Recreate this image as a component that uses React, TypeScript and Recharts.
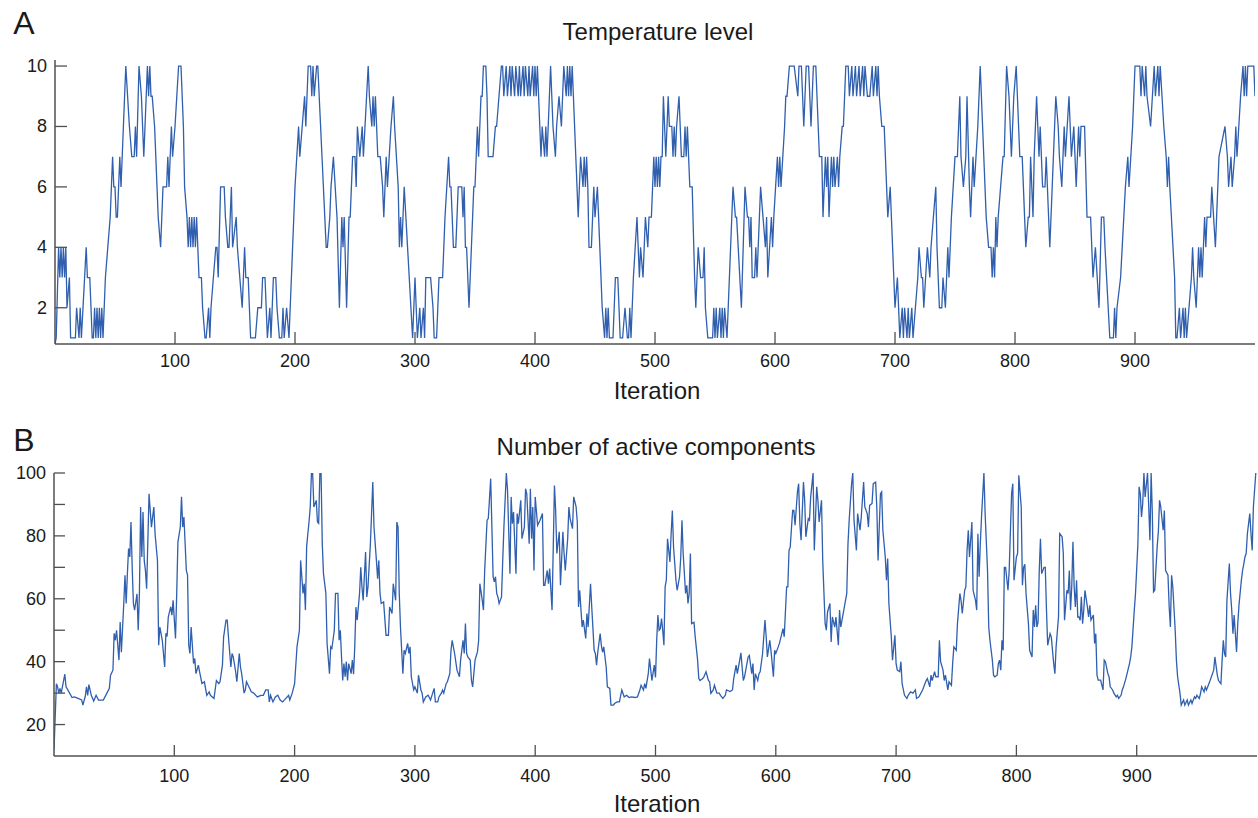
import { LineChart, Line, XAxis, YAxis } from "recharts"

const FONT = '"Liberation Sans", Arial, Helvetica, sans-serif'
const AXIS = "#505050"
const BLUE = "#2f5fae"

// x axis ticks shared by both panels
const iterationTicks = [100, 200, 300, 400, 500, 600, 700, 800, 900]
const temperatureTicks = [2, 4, 6, 8, 10]
const componentTicks = [20, 30, 40, 50, 60, 70, 80, 90, 100]
const componentLabels = [20, 40, 60, 80, 100]

// [iteration, temperature level] turning points
const temperatureSteps: [number, number][] = [
  [0, 0.8], [1, 1], [3, 4], [4, 3], [5, 4], [6, 3], [7, 4], [8, 3], [9, 4], [10, 2], [12, 3], [13, 1], [17, 1], [18, 2], [20, 1], [21, 2], [22, 1],
  [26, 4], [27, 3], [29, 3], [31, 1], [32, 1], [33, 2], [34, 1], [35, 2], [36, 1], [37, 2], [38, 1], [39, 2], [40, 1], [42, 3], [44, 4], [46, 5],
  [48, 7], [49, 6], [50, 6], [51, 5], [52, 5], [54, 7], [55, 6], [56, 7], [57, 8], [59, 10], [62, 8], [64, 7], [66, 7], [67, 8], [68, 7], [70, 10],
  [72, 9], [74, 7], [76, 9], [77, 10], [78, 9], [79, 10], [80, 9], [81, 9], [83, 8], [86, 5], [88, 4], [90, 6], [93, 6], [94, 7], [95, 6], [97, 8],
  [98, 7], [100, 8], [103, 10], [105, 10], [107, 8], [108, 6], [110, 5], [111, 4], [112, 5], [113, 4], [114, 5], [115, 4], [116, 5], [117, 4], [118, 5],
  [120, 3], [122, 3], [123, 2], [125, 1], [126, 1], [128, 2], [129, 1], [130, 2], [132, 3], [134, 4], [135, 4], [136, 3], [138, 6], [141, 6], [142, 5],
  [144, 4], [145, 4], [147, 6], [148, 4], [151, 5], [152, 4], [154, 3], [156, 2], [158, 4], [159, 3], [161, 3], [163, 1], [167, 1], [169, 2], [172, 2],
  [173, 3], [175, 3], [177, 1], [179, 2], [180, 1], [182, 3], [184, 3], [185, 2], [187, 1], [189, 1], [190, 2], [191, 1], [193, 2], [195, 1], [198, 4],
  [200, 6], [203, 8], [204, 7], [206, 8], [208, 9], [209, 8], [211, 10], [213, 10], [214, 9], [215, 10], [216, 9], [218, 10], [219, 10], [226, 4], [227, 4],
  [229, 5], [230, 6], [232, 7], [235, 5], [237, 2], [239, 5], [240, 4], [241, 5], [243, 2], [245, 5], [246, 5], [248, 7], [250, 7], [251, 6], [252, 8],
  [254, 7], [256, 8], [257, 7], [261, 10], [262, 9], [264, 8], [265, 9], [266, 8], [267, 9], [269, 7], [271, 7], [273, 6], [274, 5], [276, 7], [277, 6],
  [280, 8], [282, 9], [283, 8], [286, 6], [287, 4], [288, 5], [289, 4], [291, 6], [298, 1], [300, 3], [302, 1], [304, 2], [305, 1], [307, 2], [308, 1],
  [309, 3], [313, 3], [315, 2], [316, 1], [318, 1], [320, 3], [323, 3], [324, 4], [325, 5], [328, 7], [329, 6], [330, 6], [332, 4], [334, 4], [336, 6],
  [339, 6], [340, 5], [341, 6], [342, 4], [343, 4], [345, 2], [347, 4], [349, 6], [350, 6], [352, 8], [353, 7], [355, 9], [356, 9], [357, 10], [359, 10],
  [360, 9], [361, 7], [365, 7], [367, 8], [368, 8], [370, 9], [372, 10], [373, 10], [374, 9], [376, 10], [377, 9], [379, 10], [380, 9], [381, 10], [383, 9],
  [384, 10], [386, 9], [387, 10], [388, 9], [390, 10], [391, 9], [392, 10], [394, 9], [395, 10], [396, 9], [398, 10], [399, 9], [400, 10], [401, 9], [402, 10],
  [404, 8], [405, 7], [406, 8], [408, 7], [409, 8], [410, 7], [413, 10], [415, 8], [417, 7], [418, 8], [420, 9], [422, 8], [424, 10], [426, 9], [427, 10],
  [428, 9], [429, 10], [430, 9], [431, 10], [432, 9], [436, 5], [438, 7], [440, 6], [441, 7], [442, 6], [443, 7], [444, 6], [445, 4], [447, 4], [449, 6],
  [450, 5], [452, 6], [454, 4], [456, 2], [458, 1], [459, 2], [460, 1], [461, 2], [462, 1], [465, 1], [467, 3], [469, 3], [471, 1], [473, 1], [475, 2],
  [477, 1], [478, 1], [479, 2], [480, 1], [482, 3], [485, 5], [487, 3], [488, 4], [490, 3], [492, 5], [494, 4], [495, 5], [497, 5], [499, 7], [500, 6],
  [501, 7], [502, 6], [503, 7], [504, 6], [505, 7], [506, 7], [507, 9], [509, 7], [511, 9], [512, 8], [514, 8], [515, 7], [516, 8], [517, 7], [518, 8],
  [520, 9], [522, 7], [524, 7], [525, 8], [526, 7], [527, 8], [529, 6], [531, 6], [533, 3], [534, 2], [536, 4], [538, 3], [540, 3], [541, 4], [542, 2],
  [544, 1], [548, 1], [549, 2], [550, 1], [551, 2], [552, 1], [554, 2], [555, 1], [556, 2], [557, 1], [558, 2], [560, 1], [565, 6], [567, 5], [568, 5],
  [572, 2], [575, 6], [577, 5], [578, 5], [579, 4], [580, 5], [581, 3], [583, 3], [584, 4], [585, 3], [588, 6], [590, 5], [592, 4], [593, 5], [594, 3],
  [597, 5], [598, 4], [599, 5], [602, 7], [603, 6], [604, 7], [605, 6], [608, 8], [609, 9], [610, 9], [612, 10], [616, 10], [619, 9], [620, 10], [622, 10],
  [624, 8], [626, 10], [628, 10], [630, 8], [632, 10], [634, 10], [637, 7], [639, 7], [640, 5], [642, 7], [643, 6], [644, 7], [645, 5], [647, 7], [648, 6],
  [649, 7], [650, 6], [652, 7], [653, 6], [654, 7], [656, 8], [657, 8], [658, 9], [659, 10], [661, 10], [662, 9], [664, 10], [665, 9], [667, 10], [668, 9],
  [670, 10], [671, 9], [673, 10], [674, 9], [675, 10], [677, 9], [679, 9], [681, 10], [682, 9], [684, 10], [685, 9], [686, 10], [687, 9], [689, 8], [691, 8],
  [694, 5], [696, 6], [697, 5], [700, 2], [702, 3], [704, 1], [706, 2], [707, 1], [708, 2], [710, 1], [711, 2], [712, 1], [714, 2], [715, 1], [717, 2],
  [719, 3], [720, 4], [722, 3], [723, 3], [724, 2], [727, 4], [729, 3], [730, 4], [734, 6], [735, 4], [737, 2], [739, 2], [740, 3], [742, 2], [744, 4],
  [745, 3], [747, 5], [750, 7], [752, 7], [754, 9], [755, 7], [757, 6], [759, 7], [760, 9], [762, 6], [763, 5], [765, 7], [766, 6], [769, 8], [771, 10],
  [773, 8], [776, 5], [778, 4], [780, 4], [781, 3], [782, 4], [783, 3], [784, 5], [785, 4], [786, 5], [790, 7], [791, 7], [793, 10], [795, 9], [797, 7],
  [799, 9], [801, 10], [802, 9], [804, 7], [806, 7], [808, 5], [809, 4], [811, 5], [812, 5], [813, 7], [815, 5], [816, 7], [818, 9], [819, 8], [820, 7],
  [821, 8], [823, 6], [825, 6], [826, 7], [829, 4], [834, 9], [836, 8], [837, 7], [839, 6], [841, 8], [842, 7], [845, 9], [847, 7], [849, 8], [851, 6],
  [853, 8], [854, 7], [855, 8], [858, 8], [860, 5], [863, 5], [865, 3], [867, 4], [870, 2], [872, 5], [874, 5], [875, 4], [879, 1], [882, 1], [883, 2],
  [884, 1], [885, 2], [888, 3], [892, 6], [894, 7], [895, 6], [898, 8], [900, 10], [904, 10], [905, 9], [906, 10], [908, 9], [909, 10], [910, 9], [913, 8],
  [916, 10], [917, 9], [919, 10], [920, 9], [921, 10], [924, 8], [926, 7], [927, 6], [928, 7], [929, 6], [933, 3], [934, 1], [935, 1], [937, 2], [938, 1],
  [940, 2], [941, 1], [942, 2], [943, 1], [947, 3], [948, 4], [949, 3], [951, 2], [953, 4], [954, 3], [955, 4], [956, 3], [957, 4], [958, 5], [959, 4],
  [960, 5], [963, 5], [964, 6], [967, 4], [969, 6], [970, 7], [975, 8], [977, 7], [978, 6], [980, 7], [981, 6], [983, 7], [984, 8], [985, 7], [988, 9],
  [990, 10], [991, 9], [992, 10], [993, 9], [994, 10], [999, 10], [1000, 9],
]

// [iteration, number of active components] turning points
const componentSteps: [number, number][] = [
  [0, 12], [2, 33], [3, 32], [4, 30], [5, 31.5], [6, 30], [9, 36], [10, 32], [13, 30], [15, 28.6], [17, 28.8], [20, 28.3], [23, 27.8], [24, 26.2], [26, 29],
  [27, 32], [28, 29.3], [29, 32.7], [31, 29.3], [33, 27.5], [35, 29.3], [37, 27.8], [41, 27.8], [44, 30], [46, 31.5], [47, 35.7], [49, 37.3], [50, 49],
  [51, 46.8], [52, 50], [54, 40.5], [55, 52.6], [56, 43], [58, 58.5], [59, 67.5], [60, 58.5], [61, 68], [62, 76], [63, 73.3], [64, 84.4], [65, 70],
  [66, 58.5], [67, 56.4], [69, 61.6], [70, 50], [71, 61.6], [72, 89.2], [73, 73.3], [74, 87.6], [75, 72.2], [76, 69], [77, 63.2], [79, 93.4], [81, 82.8],
  [83, 89.2], [84, 80.7], [86, 72.2], [87, 45.2], [88, 51], [90, 46.8], [92, 38.3], [93, 49], [94, 48], [95, 54.2], [97, 57.4], [98, 54.8], [99, 59.5],
  [101, 47.4], [102, 61.6], [103, 78], [105, 82.8], [106, 92.4], [107, 82.8], [108, 86], [110, 69], [111, 67.5], [112, 45.2], [113, 42.6], [114, 51],
  [116, 39.4], [117, 41], [118, 36.2], [120, 38.9], [121, 36.8], [123, 33], [125, 33.6], [127, 29.3], [129, 30.4], [130, 29.3], [133, 28.3], [135, 34],
  [137, 33], [138, 33.6], [140, 38.9], [141, 47.9], [143, 53.2], [144, 53.2], [145, 47.9], [147, 38.3], [148, 42.6], [149, 41.5], [151, 36.8], [152, 33.6],
  [154, 42.6], [155, 38.3], [156, 36.2], [158, 30], [159, 31], [160, 33.6], [162, 32], [164, 30.4], [166, 30], [169, 28.8], [172, 29.3], [174, 29.3],
  [176, 31], [178, 31], [179, 27.2], [180, 29.3], [182, 27.2], [184, 28.8], [186, 29.3], [188, 27.8], [190, 27.2], [192, 28], [195, 29.3], [196, 27.8],
  [198, 30], [200, 33], [202, 44.7], [204, 50], [205, 72.2], [207, 61.7], [208, 64.8], [209, 56.4], [210, 76.5], [211, 80.7], [212, 84.4], [213, 89.2],
  [214, 100], [215, 100], [216, 89.2], [218, 91.3], [219, 84.4], [220, 84], [221, 100], [222, 100], [223, 77.5], [224, 68], [226, 61.7], [227, 45.8],
  [229, 36.2], [230, 44.7], [231, 44.2], [233, 50], [234, 61.7], [236, 61.7], [237, 46.8], [238, 50], [239, 41.5], [240, 34], [241, 39.4], [242, 35.2],
  [243, 40], [244, 34], [245, 39.4], [247, 36.2], [248, 40.5], [249, 36], [250, 44.7], [251, 57.4], [252, 53.2], [254, 61.7], [255, 70], [256, 63.8],
  [257, 59.5], [259, 74.9], [260, 60.6], [261, 63.8], [263, 77.5], [265, 97.1], [266, 82.8], [268, 72.2], [269, 66.4], [270, 72.2], [271, 61.7], [272, 58.5],
  [274, 59], [276, 48.4], [278, 48.4], [279, 57.4], [281, 55.3], [282, 64.8], [284, 59.5], [285, 84.4], [286, 82.8], [287, 61.7], [288, 51], [290, 36.2],
  [291, 43.6], [292, 42.6], [294, 45.8], [295, 42.6], [296, 44.7], [297, 35.2], [299, 31], [300, 32], [302, 30], [303, 35.7], [305, 31], [306, 30],
  [307, 27.2], [309, 28.8], [311, 29.3], [313, 27.8], [316, 31.5], [317, 27.2], [319, 27.2], [320, 28.8], [322, 30], [323, 31], [324, 30], [326, 33],
  [327, 33.6], [329, 36.2], [330, 43.6], [331, 46.8], [333, 42.6], [335, 37.3], [337, 35.2], [338, 40.5], [340, 46.8], [341, 42.6], [342, 52.1], [343, 42.6],
  [344, 41.5], [346, 40.5], [347, 34], [348, 32], [350, 40.5], [352, 43.1], [353, 46.8], [354, 64.8], [356, 59.5], [357, 56.4], [358, 69], [360, 85],
  [361, 85.5], [363, 98.2], [364, 82.8], [365, 67], [366, 65.4], [367, 67], [368, 61.7], [369, 60.6], [370, 58.5], [372, 60.6], [373, 72.2], [374, 82.8],
  [376, 100], [377, 94.5], [379, 68], [380, 92.4], [381, 83.9], [382, 87.6], [384, 68], [385, 87.1], [386, 83.9], [388, 91.3], [389, 79.1], [391, 82.8],
  [392, 95], [393, 93.4], [395, 77.5], [396, 95], [397, 79.1], [398, 89.2], [399, 69], [400, 92.4], [402, 83.4], [404, 85], [406, 87.1], [407, 64.3],
  [408, 64.3], [410, 69], [411, 64.8], [412, 69.6], [414, 56.4], [416, 96], [417, 88.1], [418, 74.4], [420, 81.3], [421, 64.3], [423, 81.3], [424, 74.4],
  [425, 69], [427, 79.1], [428, 89.2], [429, 85.5], [431, 82.3], [432, 92.4], [434, 89.2], [435, 84.4], [436, 57.4], [437, 62.7], [439, 51], [440, 53.2],
  [442, 47.4], [443, 55.3], [444, 51], [446, 64.8], [447, 57.4], [449, 43.6], [450, 42.6], [451, 38.9], [452, 43], [454, 48.9], [455, 45.2], [456, 43],
  [457, 44.7], [459, 38.3], [460, 32], [462, 31.5], [463, 26.2], [465, 26.2], [466, 26.7], [468, 27.2], [470, 27.2], [472, 31], [474, 28.8], [476, 29.3],
  [478, 28.6], [480, 28.8], [483, 28.6], [485, 28.8], [487, 31], [488, 32.5], [490, 31], [491, 33], [492, 31.5], [494, 36.2], [495, 41], [497, 34],
  [498, 36.5], [499, 38.9], [500, 35], [501, 46.8], [502, 54.8], [503, 50], [504, 50.5], [505, 53.7], [506, 50], [507, 45.2], [508, 63.8], [509, 65.9],
  [510, 79.1], [511, 75.4], [512, 71.7], [513, 80.7], [514, 88.1], [515, 76.5], [517, 65.9], [518, 62.7], [520, 67], [521, 73.3], [522, 85], [523, 74.4],
  [525, 61.7], [526, 64.3], [527, 58.5], [528, 61.7], [529, 74.4], [530, 52.1], [532, 52.5], [533, 47.9], [535, 40.5], [536, 34.6], [537, 34], [539, 34.6],
  [540, 35], [542, 36.8], [544, 34], [545, 33.6], [546, 29.9], [548, 31], [549, 32.5], [551, 30], [553, 30], [554, 29.3], [555, 28.8], [556, 28.3],
  [558, 29.3], [559, 31], [562, 30.5], [564, 31], [565, 34.6], [567, 38.9], [568, 36.2], [570, 40.5], [571, 42.8], [572, 38.3], [573, 34], [574, 35.2],
  [576, 39.4], [577, 41.5], [578, 42], [580, 36.2], [581, 39.4], [582, 31], [583, 36.2], [585, 34], [586, 36.2], [587, 36.8], [589, 42.6], [591, 53.2],
  [592, 47.9], [593, 41.5], [595, 46.8], [596, 43.5], [598, 35.2], [599, 43.6], [600, 42.6], [602, 44.7], [603, 45.8], [605, 48.9], [606, 50.5], [607, 47.9],
  [609, 63.8], [610, 63.8], [611, 75.4], [612, 76.5], [614, 88.1], [615, 88.1], [616, 83.4], [618, 94], [619, 96.6], [620, 83.9], [621, 78.6], [623, 97.1],
  [624, 91.3], [625, 79.7], [627, 85.5], [628, 85], [629, 92.4], [631, 100], [632, 75.4], [634, 95.6], [635, 91.3], [636, 84.4], [638, 91.3], [639, 72.2],
  [641, 52.1], [642, 50], [643, 55.8], [645, 58.5], [646, 46.3], [647, 54.2], [649, 51], [650, 54.2], [652, 45.2], [653, 56.4], [654, 51], [656, 55.3],
  [657, 57.4], [659, 61.7], [660, 77.5], [661, 85], [663, 96.6], [664, 100], [665, 85], [667, 75.4], [668, 87.1], [670, 81.8], [671, 85.8], [673, 97.1],
  [674, 89.2], [676, 87.1], [677, 82.8], [678, 89.7], [680, 90.3], [681, 96.6], [683, 97.1], [684, 88.7], [685, 72.2], [687, 93.4], [688, 94], [689, 81.8],
  [691, 73.3], [692, 65.9], [693, 72.8], [694, 58.5], [696, 47.9], [697, 40.5], [699, 48.4], [700, 39.4], [701, 37.3], [703, 36.8], [704, 40], [705, 33],
  [707, 29.3], [709, 28.3], [710, 29.3], [712, 30.4], [714, 30], [716, 31], [717, 28.3], [719, 28.8], [722, 31], [725, 34], [726, 34.6], [728, 32],
  [729, 35.7], [730, 34], [732, 36.8], [733, 35.2], [735, 35.2], [736, 46.8], [737, 40], [739, 37.3], [740, 34], [741, 35.7], [743, 31], [744, 33.6],
  [746, 32.5], [747, 39.4], [748, 44.7], [750, 43.6], [751, 52.1], [753, 61.7], [754, 59.5], [755, 55.3], [757, 62.7], [758, 63.8], [759, 75.4], [760, 81.8],
  [761, 73.3], [763, 84.4], [764, 62.7], [766, 59.5], [767, 56.4], [768, 80.7], [769, 67], [770, 77.5], [771, 86], [773, 100], [774, 87.1], [776, 69],
  [777, 51], [778, 46.8], [780, 40.5], [781, 35.7], [782, 35.2], [784, 35.7], [785, 39.4], [786, 40.5], [787, 37.3], [788, 46.8], [789, 43.6], [790, 70],
  [791, 70], [793, 62.7], [794, 69], [796, 93.4], [797, 96.6], [798, 65.9], [800, 73.3], [801, 74.4], [802, 99.3], [804, 89.2], [805, 64.3], [806, 70],
  [807, 71], [808, 61.7], [810, 52.1], [811, 43.6], [813, 41.5], [814, 56.4], [815, 51], [816, 57.9], [817, 51], [818, 52.5], [819, 69], [820, 79.1],
  [821, 68], [823, 70], [824, 70], [825, 56.4], [826, 45.2], [828, 48.9], [829, 47.9], [831, 39.4], [832, 36.2], [833, 44.7], [835, 54.2], [836, 80.7],
  [838, 79.7], [839, 74.4], [840, 53.2], [842, 62.7], [843, 61.7], [844, 69], [845, 56.4], [846, 63.8], [847, 78.1], [848, 63.8], [849, 57.4], [850, 65.9],
  [851, 54.2], [852, 54.2], [853, 53.2], [854, 60.6], [855, 52.1], [856, 56.4], [857, 62.7], [859, 57.4], [860, 54.2], [861, 57.9], [862, 53.2], [864, 54.8],
  [865, 45.8], [866, 48.9], [867, 35.7], [868, 34.1], [870, 34.1], [872, 31], [873, 40.5], [874, 40], [876, 36.2], [877, 35.2], [878, 32], [880, 31],
  [881, 30], [883, 28.8], [884, 29.3], [885, 28.3], [887, 29.3], [888, 31], [889, 32], [891, 34.6], [892, 36.2], [894, 39.4], [895, 41.5], [896, 44.7],
  [898, 56.4], [899, 61.7], [901, 77.5], [902, 95.6], [903, 93.4], [904, 86], [905, 90.3], [906, 100], [907, 92.4], [909, 100], [910, 89.2], [911, 78.6],
  [912, 100], [913, 87.1], [914, 62.2], [915, 62.7], [917, 76.5], [918, 81.3], [919, 91.3], [920, 89.2], [922, 81.8], [923, 88.1], [924, 69], [926, 67.5],
  [927, 57.4], [928, 51], [929, 67.5], [930, 63.8], [932, 50], [933, 40.5], [934, 35.2], [936, 29.9], [937, 26.2], [939, 27.8], [940, 26.2], [942, 27.8],
  [943, 26.2], [945, 27.8], [946, 26.7], [948, 28.8], [949, 28.3], [950, 29.3], [952, 28.3], [953, 29.8], [954, 32], [956, 30.4], [957, 32], [958, 31],
  [960, 33], [961, 34], [963, 36.2], [964, 37.3], [965, 41.5], [967, 35.7], [968, 34], [970, 33], [971, 40.5], [972, 46.8], [973, 42.6], [974, 41.5],
  [975, 59.5], [977, 71.2], [978, 61.7], [979, 56.4], [980, 48.9], [981, 54.8], [983, 43.1], [984, 52], [985, 57.9], [987, 65.9], [988, 69], [989, 71],
  [990, 73.3], [991, 74.4], [992, 80.7], [993, 83.9], [994, 87.1], [995, 80.7], [996, 75.4], [997, 89.2], [999, 100],
]

const temperatureData = temperatureSteps.map(([iteration, value]) => ({ iteration, value }))
const componentData = componentSteps.map(([iteration, value]) => ({ iteration, value }))

type Side = "left" | "right" | "top" | "bottom"

// MATLAB style ticks: short marks pointing into the box, labels outside
function makeTick(side: Side, len: number, labels: number[] | null, gap: number) {
  return (props: any) => {
    const { x, y, payload } = props
    const v = payload.value
    const show = labels !== null && labels.includes(v)
    let mark
    if (side === "left") mark = <line x1={x} x2={x + len} y1={y} y2={y} />
    else if (side === "right") mark = <line x1={x} x2={x - len} y1={y} y2={y} />
    else if (side === "top") mark = <line x1={x} x2={x} y1={y} y2={y + len} />
    else mark = <line x1={x} x2={x} y1={y} y2={y - len} />
    return (
      <g>
        <g stroke={AXIS} strokeWidth={1.3}>{mark}</g>
        {show && side === "left" && (
          <text x={x - gap} y={y} textAnchor="end" dominantBaseline="central" fontSize={18} fontFamily={FONT} fill="#1a1a1a">
            {v}
          </text>
        )}
        {show && side === "bottom" && (
          <text x={x} y={y + gap} textAnchor="middle" dominantBaseline="central" fontSize={18} fontFamily={FONT} fill="#1a1a1a">
            {v}
          </text>
        )}
      </g>
    )
  }
}

function Panel(props: {
  data: { iteration: number; value: number }[]
  top: number
  height: number
  margin: { top: number; right: number; bottom: number; left: number }
  yWidth: number
  yDomain: [number, number]
  yTicks: number[]
  yLabels: number[]
  tickLen: number
  xLabelGap: number
}) {
  const { data, top, height, margin, yWidth, yDomain, yTicks, yLabels, tickLen, xLabelGap } = props
  return (
    <div style={{ position: "absolute", left: 0, top, width: 1258, height }}>
      <LineChart width={1258} height={height} data={data} margin={margin}>
        <XAxis
          xAxisId="bottom"
          type="number"
          dataKey="iteration"
          domain={[0, 1000]}
          ticks={iterationTicks}
          interval={0}
          allowDataOverflow
          orientation="bottom"
          height={30}
          tickSize={0}
          tickMargin={0}
          axisLine={{ stroke: AXIS, strokeWidth: 1.5 }}
          tick={makeTick("bottom", tickLen, iterationTicks, xLabelGap)}
        />
        <XAxis
          xAxisId="top"
          type="number"
          dataKey="iteration"
          domain={[0, 1000]}
          ticks={iterationTicks}
          interval={0}
          allowDataOverflow
          orientation="top"
          height={0}
          tickSize={0}
          tickMargin={0}
          axisLine={{ stroke: AXIS, strokeWidth: 1.5 }}
          tick={makeTick("top", tickLen, null, 0)}
        />
        <YAxis
          yAxisId="left"
          type="number"
          domain={yDomain}
          ticks={yTicks}
          interval={0}
          allowDataOverflow
          orientation="left"
          width={yWidth}
          tickSize={0}
          tickMargin={0}
          axisLine={{ stroke: AXIS, strokeWidth: 1.5 }}
          tick={makeTick("left", tickLen, yLabels, 8)}
        />
        <YAxis
          yAxisId="right"
          type="number"
          domain={yDomain}
          ticks={yTicks}
          interval={0}
          allowDataOverflow
          orientation="right"
          width={0}
          tickSize={0}
          tickMargin={0}
          axisLine={{ stroke: AXIS, strokeWidth: 1.5 }}
          tick={makeTick("right", tickLen, null, 0)}
        />
        <Line
          xAxisId="bottom"
          yAxisId="left"
          type="linear"
          dataKey="value"
          stroke={BLUE}
          strokeWidth={1.3}
          dot={false}
          activeDot={false}
          isAnimationActive={false}
        />
        <Line
          xAxisId="top"
          yAxisId="right"
          type="linear"
          dataKey="value"
          stroke="none"
          dot={false}
          activeDot={false}
          isAnimationActive={false}
        />
      </LineChart>
    </div>
  )
}

const textStyle = (x: number, y: number, size: number): React.CSSProperties => ({
  position: "absolute",
  left: x,
  top: y,
  transform: "translate(-50%, -50%)",
  fontFamily: FONT,
  fontSize: size,
  lineHeight: 1,
  color: "#1a1a1a",
  whiteSpace: "nowrap",
})

export default function App() {
  return (
    <div style={{ position: "relative", width: 1258, height: 818, background: "#fff", overflow: "hidden" }}>
      <style>{`body{margin:0}`}</style>
      <Panel
        data={temperatureData}
        top={0}
        height={410}
        margin={{ top: 60, right: 3, bottom: 36, left: 0 }}
        yWidth={55}
        yDomain={[0.8, 10.2]}
        yTicks={temperatureTicks}
        yLabels={temperatureTicks}
        tickLen={12}
        xLabelGap={17}
      />
      <Panel
        data={componentData}
        top={410}
        height={408}
        margin={{ top: 63, right: 1, bottom: 32, left: 0 }}
        yWidth={54}
        yDomain={[10, 100]}
        yTicks={componentTicks}
        yLabels={componentLabels}
        tickLen={11}
        xLabelGap={20}
      />
      <div style={textStyle(24, 23, 32)}>A</div>
      <div style={textStyle(658, 32, 24)}>Temperature level</div>
      <div style={textStyle(657, 391, 24)}>Iteration</div>
      <div style={textStyle(24, 440, 32)}>B</div>
      <div style={textStyle(656, 447, 24)}>Number of active components</div>
      <div style={textStyle(657, 804, 24)}>Iteration</div>
    </div>
  )
}
